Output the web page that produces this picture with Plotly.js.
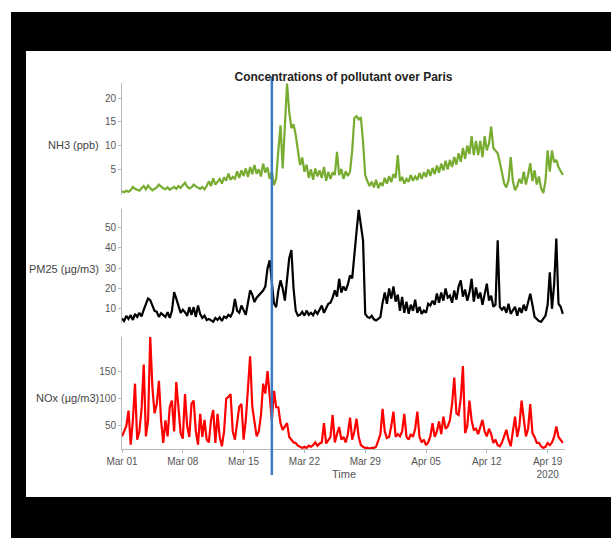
<!DOCTYPE html>
<html>
<head>
<meta charset="utf-8">
<script src="https://cdn.plot.ly/plotly-3.0.1.min.js"></script>
<style>
  html, body { margin: 0; padding: 0; background: #ffffff; width: 611px; height: 538px; overflow: hidden; }
  #frame { position: absolute; left: 11px; top: 12px; width: 600px; height: 526px; background: #000; }
  #inner { position: absolute; left: 26px; top: 51px; width: 585px; height: 446px; background: #fff; }
  #chart { position: absolute; left: 0; top: 0; width: 611px; height: 538px; }
</style>
</head>
<body>
<div id="frame"></div>
<div id="inner"></div>
<div id="chart"></div>
<script>
// ---- data (6-hourly samples starting 2020-03-01 00:00) ----
const startDate = '2020-03-01T00:00:00Z';
const stepHours = 6;

const nh3 = [
  0.4, 0.2, 0.5, 0.3,   0.6, 1.3, 0.9, 0.7,   0.5, 1.0, 1.5, 0.8,   1.6, 1.0, 0.6, 0.9,
  1.2, 1.8, 1.3, 1.0,   0.8, 1.2, 0.7, 1.0,   1.3, 0.9, 1.5, 1.1,   1.6, 2.2, 1.4, 1.0,
  1.2, 1.8, 1.4, 1.1,   0.9, 1.3, 0.8, 1.5,   2.5, 1.5, 3.1, 1.8,   2.3, 3.0, 2.0, 3.3,
  2.6, 4.1, 2.8, 3.4,   3.0, 4.6, 3.2, 4.8,   3.6, 5.2, 3.4, 5.5,   4.0, 5.9, 4.1, 5.0,
  3.5, 6.2, 4.3, 5.4,   3.0, 4.5, 1.7, 3.0,   9.0, 14.3, 5.2, 13.0, 23.1, 17.1, 13.7, 14.5,
  12.2, 9.0, 5.9, 7.5,  4.5, 6.0, 3.2, 5.0,   2.8, 5.2, 3.5, 4.8,   3.2, 5.5, 2.6, 4.5,
  3.0, 4.4, 3.8, 8.7,   3.8, 5.1, 3.0, 4.6,   3.6, 4.5, 9.0, 15.8,  16.2, 15.5, 16.0, 10.8,
  3.8, 2.5, 1.5, 2.4,   1.2, 2.8, 1.0, 2.2,   1.5, 3.2, 2.0, 3.6,   2.3, 4.0, 3.2, 8.0,
  2.5, 3.4, 2.0, 3.0,   2.4, 3.8, 2.6, 3.5,   2.8, 4.2, 3.0, 4.4,   3.4, 5.0, 3.6, 5.3,
  4.0, 5.8, 4.3, 6.2,   4.8, 6.8, 5.0, 7.0,   5.5, 7.6, 6.0, 8.4,   6.6, 9.5, 7.2, 10.0,
  8.2, 12.0, 8.0, 11.0, 8.0, 11.0, 7.6, 12.0, 9.0, 10.5, 14.0, 9.5, 9.0, 8.4, 6.5, 4.0,
  2.0, 1.2, 2.7, 7.6,   2.5, 0.6, 1.5, 3.0,   2.0, 4.5, 1.8, 3.8,   6.3, 2.5, 4.8, 1.8,
  3.5, 1.0, 0.0, 2.5,   9.0, 4.5, 9.0, 6.5,   7.0, 5.5, 4.5, 3.8
];

const pm25 = [
  5.2, 4.0, 6.5, 5.0,   6.9, 4.5, 7.5, 6.0,   8.0, 6.2, 9.5, 12.0,  15.1, 14.3, 11.6, 9.0,
  8.5, 6.0, 7.8, 6.8,   6.0, 8.3, 5.5, 9.0,   18.2, 15.0, 10.8, 8.0, 9.5, 8.3, 6.5, 10.8,
  7.0, 10.8, 6.0, 11.6, 7.4, 5.5, 6.6, 4.5,   5.0, 4.1, 3.6, 5.5,   4.5, 5.8, 4.0, 6.2,
  5.5, 7.0, 6.2, 8.3,   14.9, 9.0, 8.0, 11.6, 9.5, 7.0, 13.0, 19.1, 17.0, 13.3, 15.5, 16.6,
  18.0, 19.0, 21.0, 29.9, 33.9, 24.0, 12.6, 10.8, 19.0, 24.0, 20.0, 14.0, 25.0, 35.0, 39.0, 20.0,
  9.0, 6.6, 7.0, 8.5,   6.6, 9.1, 7.0, 8.0,   6.8, 9.0, 7.5, 9.5,   11.6, 8.0, 10.0, 12.5,
  13.0, 15.5, 19.1, 16.0, 24.8, 18.0, 21.0, 19.0, 22.0, 26.4, 25.0, 35.0, 48.0, 58.8, 52.0, 43.8,
  7.5, 6.0, 5.5, 6.6,   4.8, 4.2, 5.0, 6.0,   13.0, 18.0, 12.5, 20.0, 15.0, 21.0, 13.5, 17.0,
  9.0, 15.8, 8.0, 13.5, 7.5, 12.0, 9.0, 14.5, 8.0, 11.0, 7.5, 9.1,   8.0, 12.5, 11.6, 14.0,
  12.0, 17.5, 13.0, 18.0, 14.0, 20.0, 15.5, 16.5, 13.0, 19.0, 14.5, 21.0, 24.0, 16.0, 19.5, 14.0,
  18.0, 24.8, 13.5, 20.5, 15.0, 18.0, 12.0, 17.0, 22.4, 14.0, 16.5, 11.0, 12.0, 43.8, 10.8, 9.5,
  11.0, 8.0, 12.5, 7.5, 9.0, 11.0, 6.6, 10.5,  8.0, 12.0, 9.0, 14.0,  17.4, 12.0, 6.0, 5.0,
  4.0, 3.6, 5.0, 6.6,   12.0, 28.0, 10.0, 22.0, 44.6, 12.5, 11.0, 7.5
];

const nox = [
  31, 40, 50, 78,    16, 60, 127, 25,   40, 80, 162, 31,   60, 212, 120, 73,
  90, 132, 60, 19,   60, 31, 85, 96,    40, 130, 78, 37,   27, 108, 50, 30,
  90, 96, 40, 16,    72, 30, 61, 25,    20, 61, 79, 19,    72, 30, 13, 40,
  100, 103, 108, 40, 25, 60, 85, 90,    25, 60, 110, 177,  85, 55, 31, 40,
  70, 127, 109, 150, 96, 60, 114, 84,   84, 55, 43, 50,    55, 30, 25, 20,
  19, 14, 12, 10,    12, 10, 14, 12,    15, 20, 14, 18,    20, 55, 18, 25,
  30, 70, 20, 35,    48, 25, 30, 20,    35, 65, 25, 40,    63, 30, 15, 12,
  10, 10, 9, 10,     10, 12, 25, 35,    81, 40, 28, 30,    50, 76, 30, 35,
  31, 40, 72, 30,    25, 35, 30, 45,    76, 30, 20, 25,    15, 20, 31, 55,
  30, 40, 58, 35,    67, 45, 49, 60,    90, 138, 73, 70,   100, 159, 37, 50,
  96, 60, 43, 45,    35, 50, 61, 40,    31, 45, 35, 19,    25, 15, 13, 20,
  30, 43, 25, 13,    40, 67, 30, 50,    96, 60, 31, 45,    90, 37, 30, 19,
  19, 13, 10, 12,    19, 15, 20, 30,    49, 30, 25, 19
];

const tickDates = ['2020-03-01', '2020-03-08', '2020-03-15', '2020-03-22',
                   '2020-03-29', '2020-04-05', '2020-04-12', '2020-04-19'];
const tickLabels = ['Mar 01', 'Mar 08', 'Mar 15', 'Mar 22',
                    'Mar 29', 'Apr 05', 'Apr 12', 'Apr 19<br>2020'];
const lockdownDate = '2020-03-18 06:00';
const xRange = ['2020-03-01 00:00', '2020-04-21 00:00'];

const nh3Ticks = [5, 10, 15, 20];
const pm25Ticks = [10, 20, 30, 40, 50];
const noxTicks = [50, 100, 150];

const labelNH3 = 'NH3 (ppb)';
const labelPM25 = 'PM25 (µg/m3)';
const labelNOx = 'NOx (µg/m3)';
const titleText = 'Concentrations of pollutant over Paris';

// ---- time axis ----
const t0 = Date.parse(startDate);
function fmt(ms) { return new Date(ms).toISOString().slice(0, 16).replace('T', ' '); }
const times = nox.map((_, i) => fmt(t0 + i * stepHours * 3600 * 1000));

const FONT = 'Arial, "Liberation Sans", Helvetica, sans-serif';
const tickColor = '#555555';
const axisLine = '#b4bac4';

function yax(domain, range, ticks) {
  return {
    domain: domain, range: range, tickvals: ticks, ticks: 'outside', ticklen: 3,
    tickcolor: axisLine, showline: true, linecolor: axisLine, linewidth: 1,
    showgrid: false, zeroline: false, anchor: 'x', fixedrange: true,
    tickfont: { family: FONT, size: 10, color: tickColor }
  };
}

const traces = [
  { x: times, y: nh3, type: 'scatter', mode: 'lines', xaxis: 'x', yaxis: 'y3',
    line: { color: '#77ac30', width: 2.2 }, hoverinfo: 'skip' },
  { x: times, y: pm25, type: 'scatter', mode: 'lines', xaxis: 'x', yaxis: 'y2',
    line: { color: '#000000', width: 2.2 }, hoverinfo: 'skip' },
  { x: times, y: nox, type: 'scatter', mode: 'lines', xaxis: 'x', yaxis: 'y',
    line: { color: '#ff0000', width: 2.2 }, hoverinfo: 'skip' }
];

const labelFont = { family: FONT, size: 11, color: '#444444' };

const layout = {
  width: 611, height: 538,
  margin: { l: 122, r: 46, t: 83, b: 89, pad: 0 },
  paper_bgcolor: 'rgba(0,0,0,0)', plot_bgcolor: 'rgba(0,0,0,0)',
  showlegend: false,
  title: { text: '<b>' + titleText + '</b>', font: { family: FONT, size: 12, color: '#222222' },
           x: 0.5, xref: 'paper', y: 1 - 76.5 / 538, yref: 'container', yanchor: 'middle' },
  xaxis: {
    type: 'date', range: xRange, anchor: 'y', tickvals: tickDates, ticktext: tickLabels,
    ticks: 'outside', ticklen: 3, tickcolor: axisLine, showline: true, linecolor: axisLine,
    showgrid: false, zeroline: false, fixedrange: true,
    tickfont: { family: FONT, size: 10, color: tickColor }
  },
  yaxis: yax([0, 0.306], [8, 212], noxTicks),
  yaxis2: yax([0.3443, 0.6557], [3, 59.2], pm25Ticks),
  yaxis3: yax([0.694, 1], [-0.4, 23.2], nh3Ticks),
  annotations: [
    { text: labelNH3, xref: 'paper', yref: 'paper', x: -0.047, y: 0.8306, xanchor: 'right', yanchor: 'middle',
      showarrow: false, font: labelFont },
    { text: labelPM25, xref: 'paper', yref: 'paper', x: -0.047, y: 0.4918, xanchor: 'right', yanchor: 'middle',
      showarrow: false, font: labelFont },
    { text: labelNOx, xref: 'paper', yref: 'paper', x: -0.047, y: 0.1393, xanchor: 'right', yanchor: 'middle',
      showarrow: false, font: labelFont },
    { text: 'Time', xref: 'paper', yref: 'paper', x: 0.5, y: -0.0683, xanchor: 'center', yanchor: 'middle',
      showarrow: false, font: { family: FONT, size: 11, color: '#555555' } }
  ],
  shapes: [
    { type: 'line', xref: 'x', yref: 'paper', x0: lockdownDate, x1: lockdownDate,
      y0: -0.071, y1: 1.0178, line: { color: '#3c7bc4', width: 2.5 }, layer: 'above' }
  ]
};

Plotly.newPlot('chart', traces, layout, { displayModeBar: false, staticPlot: true });
</script>
</body>
</html>
